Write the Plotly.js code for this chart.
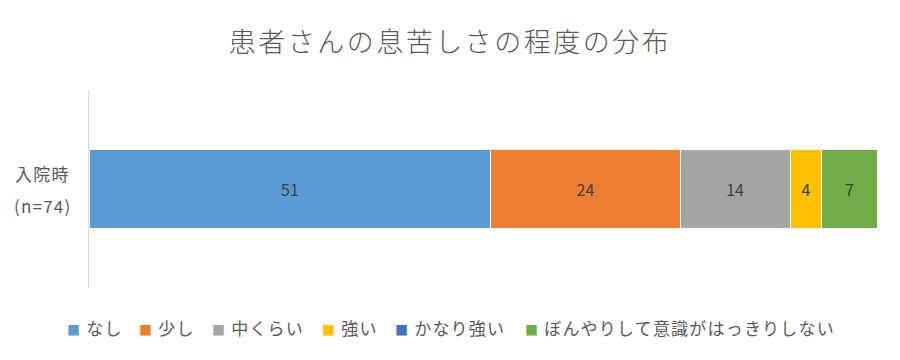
<!DOCTYPE html>
<html><head><meta charset="utf-8">
<script src="https://cdn.plot.ly/plotly-3.0.1.min.js"></script>
<style>body{margin:0;background:#fff}#c{width:900px;height:360px}
.gtitle{letter-spacing:2.5px}
.annotation-text{letter-spacing:1.2px}
</style>
</head><body><div id="c"></div>
<script>
const categories = ["入院時<br>(n=74)"];
const seriesNames = ["なし","少し","中くらい","強い","かなり強い","ぼんやりして意識がはっきりしない"];
const seriesValues = [[51],[24],[14],[4],[0],[7]];
const colors = ["#5B9BD5","#ED7D31","#A5A5A5","#FFC000","#4472C4","#70AD47"];
const FONT = "'Noto Sans CJK JP', 'Noto Sans', sans-serif";
const L = 89, R = 23, PW = 900 - L - R;
const legendPx = [65,137,210,320,393,523];
const traces = seriesNames.map((n,i)=>({
  type:'bar', orientation:'h', name:n,
  y:categories, x:seriesValues[i],
  marker:{color:colors[i], line:{color:'#ffffff', width:1}},
  text:seriesValues[i].map(v=>v>0?String(v):''),
  textposition:'inside', insidetextanchor:'middle',
  textfont:{family:FONT, size:16, color:'#404040'},
  hoverinfo:'x+name', width:0.4, showlegend:false
}));
const annotations = [];
categories[0].split('<br>').forEach((line,j)=>{
  annotations.push({xref:'paper', yref:'paper', x:(42-L)/PW, y:j===0?0.5+16/198:0.5-16/198,
    xanchor:'center', yanchor:'middle', showarrow:false, text:line,
    font:{family:FONT, size:17, color:'#595959'}});
});
seriesNames.forEach((n,i)=>{
  annotations.push({xref:'paper', yref:'paper', x:(legendPx[i]-L)/PW, y:-(327-288)/198,
    xanchor:'left', yanchor:'middle', showarrow:false,
    text:'<span style="color:'+colors[i]+';font-size:13px">■</span> '+n,
    font:{family:FONT, size:17, color:'#595959'}});
});
Plotly.newPlot('c', traces, {
  barmode:'stack', width:900, height:360,
  margin:{l:L, r:R, t:90, b:72},
  paper_bgcolor:'#fff', plot_bgcolor:'#fff',
  title:{text:'患者さんの息苦しさの程度の分布', x:0.5, xanchor:'center', y:0.883, yanchor:'middle',
    font:{family:FONT, size:27, color:'#595959', weight:300}},
  xaxis:{range:[0,100], visible:false, fixedrange:true},
  yaxis:{showline:true, linecolor:'#D9D9D9', linewidth:1, ticks:'', showgrid:false, zeroline:false,
    showticklabels:false, range:[-0.5,0.5]},
  showlegend:false,
  annotations:annotations
}, {displayModeBar:false, staticPlot:true});
</script></body></html>
